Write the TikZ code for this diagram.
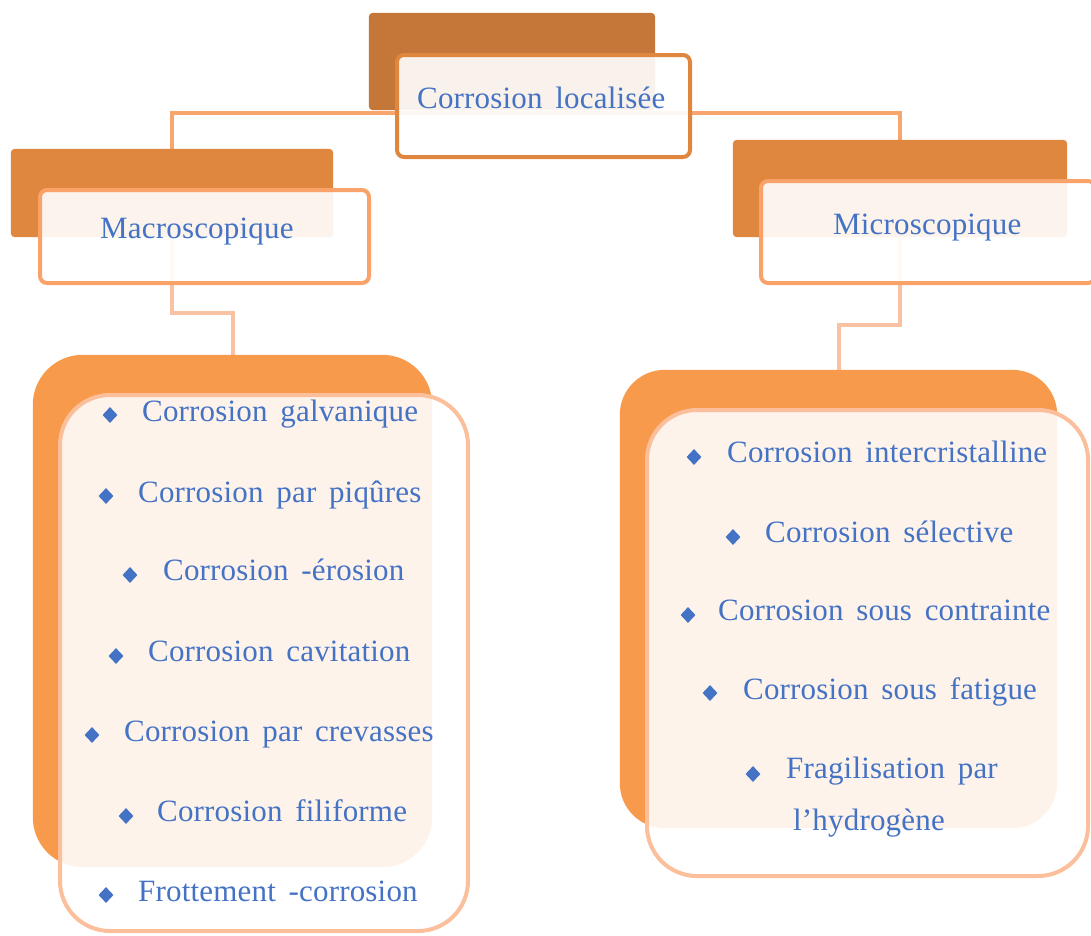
\documentclass[tikz,border=0pt]{standalone}
\usepackage{fontspec}
\setmainfont{Liberation Serif}
\newfontfamily\lblfont[LetterSpace=0.6,WordSpace=1.6]{Liberation Serif}
\usetikzlibrary{shapes.geometric}
\definecolor{topBack}{HTML}{C5773A}
\definecolor{midBack}{HTML}{E0873F}
\definecolor{listBack}{HTML}{F79A4B}
\definecolor{topBorder}{HTML}{E0873F}
\definecolor{midBorder}{HTML}{F9A36A}
\definecolor{listBorder}{HTML}{FBBF9B}
\definecolor{connA}{HTML}{F8A56E}
\definecolor{connB}{HTML}{F9C2A2}
\definecolor{txtblue}{HTML}{4472C4}
\begin{document}
\begin{tikzpicture}[x=1pt,y=-1pt,
  box/.style={rectangle,inner sep=0pt},
  backbox/.style={box,rounded corners=4pt},
  frontbox/.style={box,rounded corners=7pt,fill=white,fill opacity=0.9,line width=4pt},
  listfront/.style={box,rounded corners=50pt,fill=white,fill opacity=0.89,draw=listBorder,line width=4pt},
  conn/.style={line width=4pt},
  txt/.style={inner sep=0pt,anchor=base west,text=txtblue,font=\lblfont\fontsize{31}{36}\selectfont},
  bul/.style={diamond,fill=txtblue,inner sep=0pt,minimum width=15pt,minimum height=16pt}
]
\useasboundingbox (0,0) rectangle (1091,935);
\clip (0,0) rectangle (1091,935);

% back boxes (as nodes, for connector anchors)
\node[backbox,minimum width=286pt,minimum height=97pt] (topback) at (512,61.5) {};
\node[backbox,minimum width=322pt,minimum height=88pt] (macback) at (172,193) {};
\node[backbox,minimum width=334pt,minimum height=97pt] (micback) at (900,188.5) {};
\node[box,minimum width=399pt,minimum height=512pt] (lback) at (232.5,611) {};
\node[box,minimum width=437pt,minimum height=458pt] (rback) at (838.5,599) {};
\coordinate (topjoin) at (540,113);
\coordinate (ljoin) at (172,313);
\coordinate (rjoin) at (900,325);

% connectors (drawn underneath)
\draw[conn,draw=connA] (macback.north) |- (topjoin) -| (micback.north);
\draw[conn,draw=connB] (macback.south) -- (ljoin) -| (lback.north);
\draw[conn,draw=connB] (micback.south) -- (rjoin) -| (rback.north);

% fill back boxes
\fill[topBack,rounded corners=4pt] (topback.south west) rectangle (topback.north east);
\fill[midBack,rounded corners=4pt] (macback.south west) rectangle (macback.north east);
\fill[midBack,rounded corners=4pt] (micback.south west) rectangle (micback.north east);
\fill[listBack,rounded corners=50pt] (lback.south west) rectangle (lback.north east);
\fill[listBack,rounded corners=45pt] (rback.south west) rectangle (rback.north east);

% front boxes
\node[frontbox,draw=topBorder,minimum width=293pt,minimum height=102pt] (topfront) at (543.5,106) {};
\node[frontbox,draw=midBorder,minimum width=329pt,minimum height=93pt] (macfront) at (204.5,236.5) {};
\node[frontbox,draw=midBorder,minimum width=334pt,minimum height=102pt] (micfront) at (928,232) {};
\node[listfront,minimum width=408pt,minimum height=536pt] (lfront) at (264,663) {};
\node[listfront,minimum width=441pt,minimum height=466pt] (rfront) at (867.5,643) {};

% titles
\node[txt] (ttop) at (417,108) {Corrosion localisée};
\node[txt] (tmac) at (100,238) {Macroscopique};
\node[txt] (tmic) at (833,234) {Microscopique};

% left list
\node[bul] (lb1) at (110,415) {};
\node[txt] (l1) at (142,421) {Corrosion galvanique};
\node[bul] (lb2) at (106,496) {};
\node[txt] (l2) at (138,502) {Corrosion par piqûres};
\node[bul] (lb3) at (130,575) {};
\node[txt] (l3) at (163,580) {Corrosion -érosion};
\node[bul] (lb4) at (116,656) {};
\node[txt] (l4) at (148,661) {Corrosion cavitation};
\node[bul] (lb5) at (92,735) {};
\node[txt] (l5) at (124,741) {Corrosion par crevasses};
\node[bul] (lb6) at (126,816) {};
\node[txt] (l6) at (157,821) {Corrosion filiforme};
\node[bul] (lb7) at (106,895) {};
\node[txt] (l7) at (138,901) {Frottement -corrosion};

% right list
\node[bul] (rb1) at (694,457) {};
\node[txt] (r1) at (727,462) {Corrosion intercristalline};
\node[bul] (rb2) at (733,537) {};
\node[txt] (r2) at (765,542) {Corrosion sélective};
\node[bul] (rb3) at (688,615) {};
\node[txt] (r3) at (718,620) {Corrosion sous contrainte};
\node[bul] (rb4) at (710,693) {};
\node[txt] (r4) at (743,699) {Corrosion sous fatigue};
\node[bul] (rb5) at (753,774) {};
\node[txt] (r5) at (786,778) {Fragilisation par};
\node[txt] (r6) at (793,830) {l’hydrogène};
\end{tikzpicture}
\end{document}
